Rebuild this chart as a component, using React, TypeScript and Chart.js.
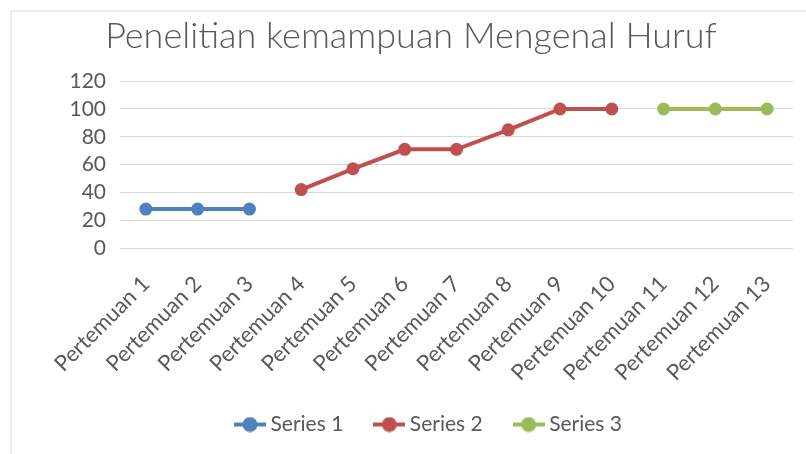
import React, { useEffect, useRef } from "react";
import { Chart, registerables } from "chart.js";

Chart.register(...registerables);

const categories = [
  "Pertemuan 1", "Pertemuan 2", "Pertemuan 3", "Pertemuan 4", "Pertemuan 5",
  "Pertemuan 6", "Pertemuan 7", "Pertemuan 8", "Pertemuan 9", "Pertemuan 10",
  "Pertemuan 11", "Pertemuan 12", "Pertemuan 13",
];
const series1 = [28, 28, 28, null, null, null, null, null, null, null, null, null, null];
const series2 = [null, null, null, 42, 57, 71, 71, 85, 100, 100, null, null, null];
const series3 = [null, null, null, null, null, null, null, null, null, null, 100, 100, 100];
const seriesNames = ["Series 1", "Series 2", "Series 3"];
const colors = ["#4F81BD", "#C0504D", "#9BBB59"];
const title = "Penelitian kemampuan Mengenal Huruf";

const FONT = "Lato, 'Open Sans', sans-serif";
const TEXT = "#595959";

function legendMarker(color: string): HTMLCanvasElement {
  const c = document.createElement("canvas");
  c.width = 32;
  c.height = 16;
  const ctx = c.getContext("2d")!;
  ctx.strokeStyle = color;
  ctx.lineWidth = 4;
  ctx.beginPath();
  ctx.moveTo(0, 8);
  ctx.lineTo(32, 8);
  ctx.stroke();
  ctx.fillStyle = color;
  ctx.beginPath();
  ctx.arc(16, 8, 7.5, 0, Math.PI * 2);
  ctx.fill();
  return c;
}

// Nudges the legend box right (to match the reference centring) and lets the
// rotated category labels overflow their axis box without being clipped.
const layoutTweaks = {
  id: "layoutTweaks",
  afterLayout(chart: any) {
    const lg = chart.legend;
    if (lg) {
      lg.left += 20;
      lg.right += 20;
    }
    const x = chart.scales.x;
    if (x) x.bottom += 30;
  },
};

export default function App() {
  const ref = useRef<HTMLCanvasElement>(null);
  useEffect(() => {
    if (!ref.current) return;
    const data = [series1, series2, series3];
    const markers = colors.map(legendMarker);
    const chart = new Chart(ref.current, {
      type: "line",
      data: {
        labels: categories,
        datasets: data.map((d, i) => ({
          label: seriesNames[i],
          data: d,
          borderColor: colors[i],
          backgroundColor: colors[i],
          borderWidth: 4,
          pointRadius: 6.5,
          pointHoverRadius: 6.5,
          pointBorderWidth: 0,
          pointStyle: "circle",
          spanGaps: false,
          tension: 0,
        })),
      },
      plugins: [layoutTweaks],
      options: {
        animation: false,
        responsive: false,
        layout: { padding: { top: 10, left: 29, right: 13, bottom: 9 } },
        plugins: {
          title: {
            display: true,
            text: title,
            color: TEXT,
            font: { family: FONT, size: 36, weight: 300 as any, lineHeight: 1.2 },
            padding: { top: 5, bottom: 23 },
          },
          legend: {
            position: "bottom",
            labels: {
              usePointStyle: true,
              pointStyleWidth: 20,
              color: TEXT,
              font: { family: FONT, size: 21 },
              padding: 36,
              generateLabels: () =>
                seriesNames.map((n, i) => ({
                  text: n,
                  pointStyle: markers[i],
                  fillStyle: colors[i],
                  strokeStyle: colors[i],
                  lineWidth: 0,
                  hidden: false,
                  datasetIndex: i,
                  fontColor: TEXT,
                })),
            },
          },
          tooltip: { enabled: false },
        },
        scales: {
          x: {
            offset: true,
            grid: { display: false },
            border: { display: false },
            ticks: {
              color: TEXT,
              font: { family: FONT, size: 22 },
              minRotation: 45,
              maxRotation: 45,
              padding: 15,
              autoSkip: false,
            },
            afterFit: (s: any) => {
              s.height = 130;
            },
          },
          y: {
            min: 0,
            max: 120,
            grid: { color: "#d9d9d9", lineWidth: 1, drawTicks: false },
            border: { display: false },
            ticks: {
              stepSize: 20,
              autoSkip: false,
              color: TEXT,
              font: { family: FONT, size: 21, lineHeight: 1 },
              padding: 14,
            },
            afterFit: (s: any) => {
              s.width = 91;
            },
          },
        },
      },
    });
    return () => chart.destroy();
  }, []);

  return (
    <div style={{ position: "fixed", left: 0, top: 0, width: 806, height: 454, background: "#fff", overflow: "hidden" }}>
      <div
        style={{
          position: "absolute",
          left: 10,
          top: 10,
          width: 900,
          height: 500,
          borderTop: "2px solid #ececec",
          borderLeft: "2px solid #ececec",
        }}
      />
      <canvas ref={ref} width={806} height={454} style={{ position: "absolute", left: 0, top: 0, width: 806, height: 454 }} />
    </div>
  );
}
